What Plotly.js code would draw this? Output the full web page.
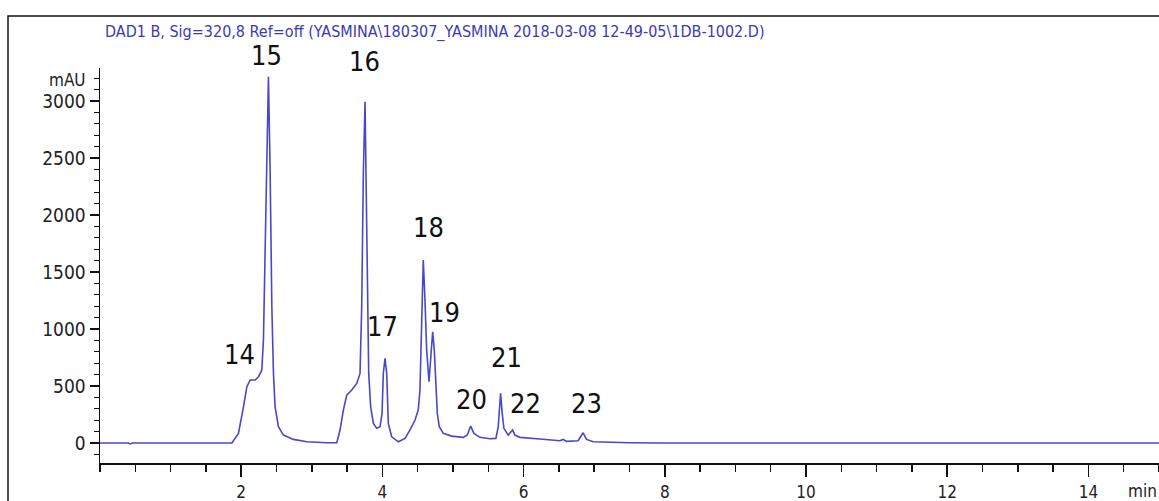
<!DOCTYPE html>
<html>
<head>
<meta charset="utf-8">
<script src="https://cdn.plot.ly/plotly-3.0.1.min.js"></script>
<style>
  html, body { margin: 0; padding: 0; background: #fff; }
  #chart { width: 1159px; height: 501px; }
</style>
</head>
<body>
<div id="chart"></div>
<script>
// ---- data ----
const timeMin = [0, 0.40, 0.43, 0.46, 1.868, 1.961, 2.032, 2.080, 2.127, 2.198, 2.245, 2.292, 2.315, 2.339, 2.363, 2.386, 2.410, 2.434, 2.457, 2.480, 2.527, 2.598, 2.740, 2.929, 3.210, 3.354, 3.400, 3.447, 3.495, 3.566, 3.637, 3.683, 3.707, 3.730, 3.754, 3.768, 3.787, 3.806, 3.834, 3.872, 3.920, 3.966, 3.995, 4.013, 4.037, 4.061, 4.084, 4.132, 4.226, 4.320, 4.390, 4.462, 4.508, 4.532, 4.556, 4.579, 4.603, 4.627, 4.660, 4.688, 4.712, 4.735, 4.759, 4.778, 4.806, 4.863, 4.980, 5.145, 5.202, 5.250, 5.296, 5.381, 5.523, 5.608, 5.641, 5.674, 5.697, 5.721, 5.782, 5.844, 5.877, 5.947, 6.230, 6.513, 6.560, 6.608, 6.772, 6.843, 6.891, 6.985, 7.500, 7.800, 8.000, 15];
const signalMAU = [0, 0, -8, 0, 0, 85, 318, 494, 553, 553, 582, 640, 904, 1781, 2658, 3213, 2368, 1196, 611, 318, 143, 70, 32, 11, 3, 3, 114, 289, 421, 465, 523, 611, 1196, 2366, 2994, 2368, 1196, 611, 318, 173, 129, 143, 260, 611, 743, 611, 173, 55, 11, 41, 114, 202, 289, 465, 1050, 1605, 1254, 816, 538, 757, 976, 816, 494, 260, 143, 85, 61, 50, 70, 149, 85, 50, 38, 41, 143, 436, 260, 129, 70, 114, 70, 50, 35, 20, 32, 15, 20, 90, 32, 11, 3, 2, 0, 0];

const peakLabels = ["14", "15", "16", "17", "18", "19", "20", "21", "22", "23"];
const peakLabelTime = [1.974, 2.353, 3.740, 3.995, 4.646, 4.886, 5.268, 5.763, 6.032, 6.896];
const peakLabelMAU = [781, 3404, 3351, 1026, 1895, 1149, 386, 754, 351, 351];

const xTickVals = [2, 4, 6, 8, 10, 12, 14];
const xTickText = ["2", "4", "6", "8", "10", "12", "14"];
const yTickVals = [0, 500, 1000, 1500, 2000, 2500, 3000];
const yTickText = ["0", "500", "1000", "1500", "2000", "2500", "3000"];

const titleText = "DAD1 B, Sig=320,8 Ref=off (YASMINA\\180307_YASMINA 2018-03-08 12-49-05\\1DB-1002.D)";

// ---- drawing ----
const narrow = "Liberation Sans Narrow, DejaVu Sans Condensed, Arial Narrow, sans-serif";
const yRange = [-175, 3290];
const toPaperY = v => (v - yRange[0]) / (yRange[1] - yRange[0]);

const trace = {
  x: timeMin,
  y: signalMAU,
  type: "scatter",
  mode: "lines",
  line: { color: "rgb(72,72,200)", width: 1.6 },
  hoverinfo: "x+y"
};

// labels placed at data positions; y expressed via the y-axis range so labels above the top are kept
const annotations = peakLabels.map((txt, i) => ({
  x: peakLabelTime[i], y: toPaperY(peakLabelMAU[i]), xref: "x", yref: "paper",
  text: txt, showarrow: false, xanchor: "center", yanchor: "middle",
  font: { family: narrow, size: 27, color: "#111" }
}));
annotations.push({
  x: -0.0113, y: 0.97, xref: "paper", yref: "paper", text: "mAU", showarrow: false,
  xanchor: "right", yanchor: "middle", font: { family: narrow, size: 17, color: "#222" }
});
annotations.push({
  x: 1.0, y: -0.072, xref: "paper", yref: "paper", text: "min", showarrow: false,
  xanchor: "right", yanchor: "middle", font: { family: narrow, size: 17, color: "#222" }
});

const layout = {
  width: 1159, height: 501,
  margin: { l: 100, r: 0, t: 68, b: 38, pad: 0 },
  paper_bgcolor: "#fff", plot_bgcolor: "#fff",
  showlegend: false,
  title: {
    text: titleText, x: 105 / 1159, xanchor: "left", xref: "container",
    y: 1 - 31 / 501, yanchor: "middle", yref: "container",
    font: { family: narrow, size: 16, color: "#3a3ab8" }
  },
  xaxis: {
    range: [0, 15], tickmode: "array", tickvals: xTickVals, ticktext: xTickText,
    showgrid: false, zeroline: false, showline: true, linecolor: "#111", linewidth: 1.5,
    ticks: "outside", ticklen: 12, tickwidth: 1.5, tickcolor: "#111",
    ticklabelstandoff: 1,
    minor: { tick0: 0, dtick: 0.5, ticks: "outside", ticklen: 7, tickwidth: 1.5, tickcolor: "#111", showgrid: false },
    tickfont: { family: narrow, size: 17, color: "#222" },
    fixedrange: true
  },
  yaxis: {
    range: yRange, tickmode: "array", tickvals: yTickVals, ticktext: yTickText,
    showgrid: false, zeroline: false, showline: true, linecolor: "#111", linewidth: 1.5,
    ticks: "outside", ticklen: 9, tickwidth: 1.5, tickcolor: "#111",
    minor: { tick0: 0, dtick: 100, ticks: "outside", ticklen: 5, tickwidth: 1.2, tickcolor: "#111", showgrid: false },
    tickfont: { family: narrow, size: 19, color: "#222" },
    fixedrange: true
  },
  annotations: annotations,
  shapes: [{
    type: "rect", xref: "paper", yref: "paper",
    x0: (8 - 100) / 1059, x1: 1.02, y0: (463 - 520) / 395, y1: (463 - 16) / 395,
    line: { color: "#111", width: 1.5 }, fillcolor: "rgba(0,0,0,0)", layer: "below"
  }]
};

Plotly.newPlot("chart", [trace], layout, { displayModeBar: false, staticPlot: true });
</script>
</body>
</html>
